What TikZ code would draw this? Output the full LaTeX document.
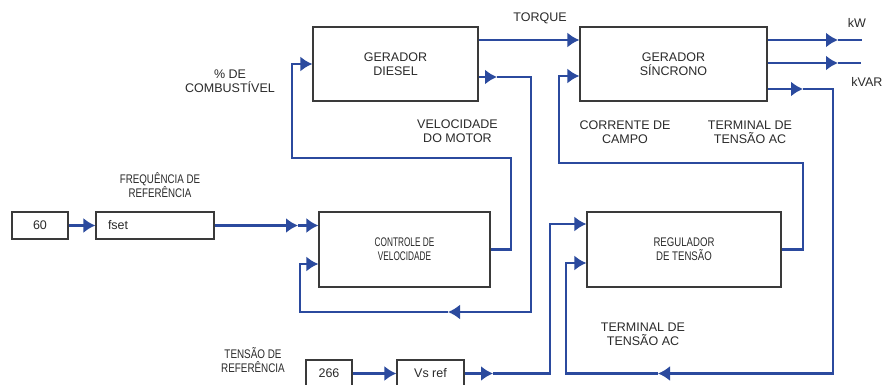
\documentclass[tikz,border=0pt]{standalone}
\usepackage{fontspec}
\setmainfont{Liberation Sans}
\usepackage{graphicx}
\usetikzlibrary{arrows.meta}
\definecolor{flowblue}{HTML}{2B4A9E}
\definecolor{boxgray}{HTML}{3A3A3A}
\definecolor{txtgray}{HTML}{2A2A2A}
\newcommand\squeeze[2]{\scalebox{#1}[1]{#2}}
\begin{document}
\begin{tikzpicture}[x=1pt,y=-1pt,
  blk/.style={draw=boxgray,line width=1.2pt,inner sep=0pt,font=\fontsize{12.5}{14}\selectfont,align=center,text=txtgray},
  lbl/.style={inner sep=0pt,font=\fontsize{12.5}{14}\selectfont,align=center,text=txtgray},
  flow/.style={draw=flowblue,line width=2.3pt},
  arrowtip/.style={-{Latex[length=12pt,width=15pt]}},
]
\fill[white] (0,0) rectangle (884,385);
\useasboundingbox (0,0) rectangle (884,385);

% blocks
\node[blk,minimum width=165pt,minimum height=74pt] (D) at (395.5,64) {GERADOR\\DIESEL};
\node[blk,minimum width=187pt,minimum height=74pt] (S) at (673.5,64) {GERADOR\\SÍNCRONO};
\node[blk,minimum width=171pt,minimum height=75pt] (C) at (404.5,249.5) {\squeeze{0.66}{CONTROLE DE}\\\squeeze{0.66}{VELOCIDADE}};
\node[blk,minimum width=194pt,minimum height=75pt] (R) at (684,249.5) {\squeeze{0.77}{REGULADOR}\\\squeeze{0.77}{DE TENSÃO}};
\node[blk,minimum width=56pt,minimum height=27pt] (B60) at (40,225.5) {60};
\node[blk,minimum height=27pt,text width=94pt,inner xsep=12pt,align=left] (F) at (155,225.5) {fset};
\node[blk,minimum width=46pt,minimum height=27pt] (B266) at (329,373.5) {266};
\node[blk,minimum width=67pt,minimum height=27pt] (VS) at (430.5,373.5) {Vs ref};

% labels
\node[lbl] (ltq) at (540,18) {TORQUE};
\node[lbl] (lkw) at (857,23) {kW};
\node[lbl] (lkvar) at (867,82) {kVAR};
\node[lbl] (lfuel) at (230,81) {\% DE\\COMBUSTÍVEL};
\node[lbl] (lvel) at (457.5,131) {VELOCIDADE\\DO MOTOR};
\node[lbl] (lcc) at (625,132) {CORRENTE DE\\CAMPO};
\node[lbl] (lta) at (750,132) {TERMINAL DE\\TENSÃO AC};
\node[lbl] (lfr) at (160,185.5) {\squeeze{0.78}{FREQUÊNCIA DE}\\\squeeze{0.78}{REFERÊNCIA}};
\node[lbl] (ltr) at (253,360.5) {\squeeze{0.79}{TENSÃO DE}\\\squeeze{0.79}{REFERÊNCIA}};
\node[lbl] (ltb) at (643,334.5) {TERMINAL DE\\TENSÃO AC};

% coordinates
\coordinate (tq) at (0,40);
\coordinate (fmid) at (298,225.5);
\coordinate (fuelA) at (511,158);
\coordinate (fuelB) at (292,64);
\coordinate (spdA) at (497,77);
\coordinate (spdB) at (531,312);
\coordinate (spdC) at (448,312);
\coordinate (spdD) at (300,264);
\coordinate (kw) at (838,40);
\coordinate (kwend) at (862,40);
\coordinate (kv) at (838,63);
\coordinate (kvend) at (861,63);
\coordinate (tm1) at (803,89);
\coordinate (tm2) at (833,373.5);
\coordinate (tm3) at (658,373.5);
\coordinate (tm4) at (566,263);
\coordinate (vr1) at (493,373.5);
\coordinate (vr2) at (550,224);
\coordinate (fc1) at (803,163);
\coordinate (fc2) at (559,76);

% connectors
\draw[flow,arrowtip] (B60) -- (F);
\draw[flow,arrowtip] (F.east) -- (fmid);
\draw[flow,arrowtip] (fmid) -- (C.west|-fmid);
\draw[flow,arrowtip] (C.east) -| (fuelA) -| (fuelB) -- (D.west);
\draw[flow,arrowtip] (D.east|-spdA) -- (spdA);
\draw[flow,arrowtip] (spdA) -| (spdB) -- (spdC);
\draw[flow,arrowtip] (spdC) -| (spdD) -- (C.west|-spdD);
\draw[flow,arrowtip] (D.east|-tq) -- (S.west|-tq);
\draw[flow,arrowtip] (S.east|-kw) -- (kw);
\draw[flow] (kw) -- (kwend);
\draw[flow,arrowtip] (S.east|-kv) -- (kv);
\draw[flow] (kv) -- (kvend);
\draw[flow,arrowtip] (S.east|-tm1) -- (tm1);
\draw[flow,arrowtip] (tm1) -| (tm2) -- (tm3);
\draw[flow,arrowtip] (tm3) -| (tm4) -- (R.west|-tm4);
\draw[flow,arrowtip] (B266) -- (VS);
\draw[flow,arrowtip] (VS.east) -- (vr1);
\draw[flow,arrowtip] (vr1) -| (vr2) -- (R.west|-vr2);
\draw[flow,arrowtip] (R.east) -| (fc1) -| (fc2) -- (S.west|-fc2);
\end{tikzpicture}
\end{document}
